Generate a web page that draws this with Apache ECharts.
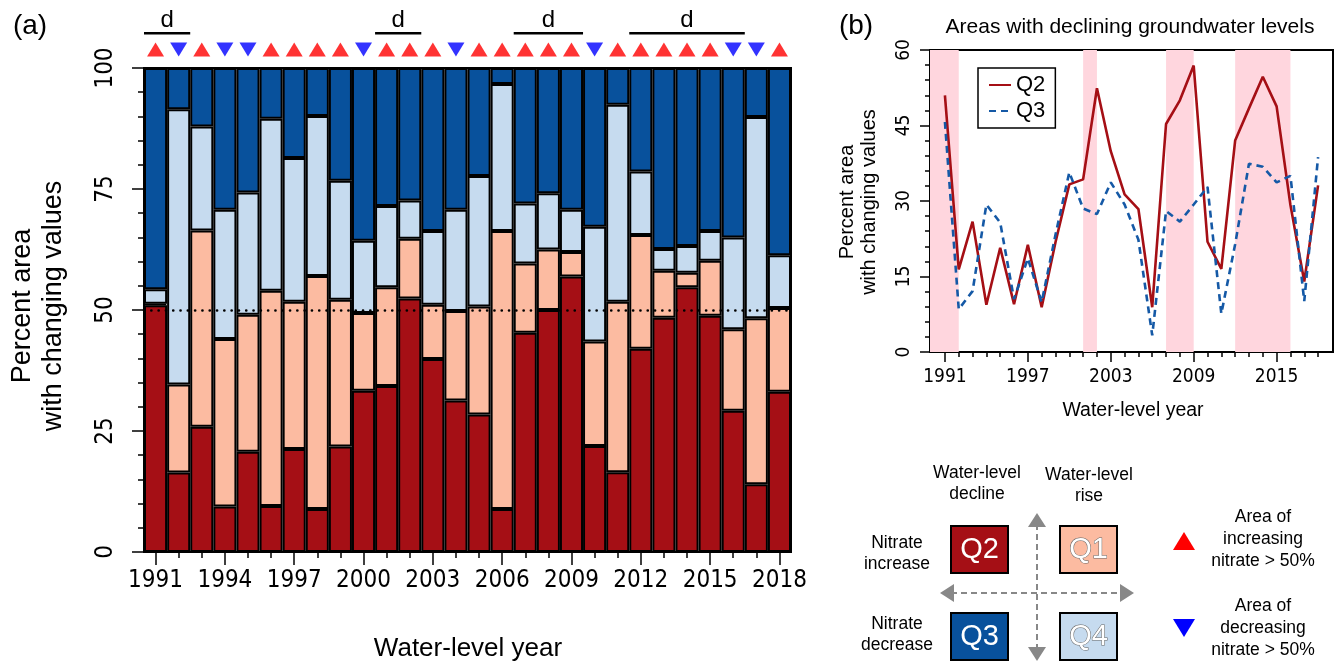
<!DOCTYPE html>
<html><head><meta charset="utf-8">
<script src="https://cdn.jsdelivr.net/npm/echarts@6/dist/echarts.min.js"></script>
<style>html,body{margin:0;padding:0;background:#fff}#c{width:1340px;height:665px}</style>
</head><body><div id="c"></div>
<script>
// ---------------- data ----------------
const years = ['1991','1992','1993','1994','1995','1996','1997','1998','1999','2000',
  '2001','2002','2003','2004','2005','2006','2007','2008','2009','2010',
  '2011','2012','2013','2014','2015','2016','2017','2018'];
// percent area in each quadrant (segment sizes)
const q2 = [51.0,16.4,25.9, 9.4,20.7, 9.5,21.3, 8.9,21.8,33.3,34.3,52.4,39.9,31.3,28.4, 8.9,45.3,50.0,56.9,21.9,16.5,42.0,48.4,54.7,48.8,29.2,14.0,33.1];
const q1 = [ 0.3,18.2,40.5,34.6,28.3,44.5,30.4,48.1,30.3,16.1,20.4,12.3,11.2,18.5,22.3,57.4,14.3,12.5, 5.1,21.6,35.2,23.5, 9.7, 3.0,11.4,16.8,34.3,17.3];
const q4 = [ 3.0,56.9,21.5,26.7,25.3,35.5,29.7,33.1,24.6,14.9,16.8, 7.9,15.2,20.9,27.0,30.4,12.4,11.6, 8.7,23.7,40.7,13.1, 4.5, 5.5, 6.1,19.0,41.6,10.9];
const q3 = [45.7, 8.5,12.1,29.3,25.7,10.5,18.6, 9.9,23.3,35.7,28.5,27.4,33.7,29.3,22.3, 3.3,28.0,25.9,29.3,32.8, 7.6,21.4,37.4,36.8,33.7,35.0,10.1,38.7];
// area of increasing (up) / decreasing (down) nitrate > 50%
const trend = ['up','down','up','down','down','up','up','up','up','down',
  'up','up','up','down','up','up','up','up','up','down',
  'up','up','up','up','up','down','down','up'];
// periods of declining groundwater levels ("d")
const dPeriods = [[1991,1992],[2001,2002],[2007,2009],[2012,2016]];
const leftXLabelYears = ['1991','1994','1997','2000','2003','2006','2009','2012','2015','2018'];
const rightXLabelYears = [1991,1997,2003,2009,2015];
const leftYTicks = [0,25,50,75,100];
const rightYTicks = [0,15,30,45,60];

// ---------------- styles ----------------
const NARROW = "'Liberation Sans Narrow','Arial Narrow','DejaVu Sans Condensed','Liberation Sans',sans-serif";
const SANS = "'Liberation Sans',Arial,Helvetica,sans-serif";
const C_Q2 = '#A50F15', C_Q1 = '#FCBBA1', C_Q4 = '#C6DBEF', C_Q3 = '#08519C';
const yearNums = years.map(Number);
const xMinR = 1991 - 0.04 * 27, xMaxR = 2018 + 0.04 * 27;

const chart = echarts.init(document.getElementById('c'), null, {renderer: 'canvas'});

function barSeries(name, data, color, extra) {
  return Object.assign({
    name: name, type: 'bar', stack: 'all', xAxisIndex: 0, yAxisIndex: 0,
    data: data, barCategoryGap: '0%', barWidth: '100%',
    itemStyle: {color: color, borderColor: '#000', borderWidth: 2},
    emphasis: {disabled: true}, silent: true
  }, extra || {});
}

const option = {
  animation: false,
  backgroundColor: '#fff',
  textStyle: {fontFamily: SANS},
  grid: [
    {left: 144, top: 68, width: 647, height: 484, show: true, borderColor: '#000', borderWidth: 2, backgroundColor: 'transparent'},
    {left: 144, top: 8, width: 647, height: 52},
    {left: 930, top: 50, width: 403, height: 302, show: true, borderColor: '#000', borderWidth: 2, backgroundColor: 'transparent'}
  ],
  legend: {
    data: ['Q2', 'Q3'], orient: 'vertical', left: 978, top: 68,
    backgroundColor: '#fff', borderColor: '#000', borderWidth: 1.5,
    padding: [6, 10, 6, 10], itemGap: 4, itemWidth: 22, itemHeight: 14,
    itemStyle: {opacity: 0},
    textStyle: {fontSize: 22, fontFamily: SANS, color: '#000'}
  },
  xAxis: [
    {type: 'category', gridIndex: 0, data: years, position: 'bottom',
     axisLine: {show: true, lineStyle: {color: '#000', width: 2}},
     axisTick: {show: true, alignWithLabel: true, interval: 0, length: 6, lineStyle: {color: '#000', width: 1.5}},
     axisLabel: {show: false}, splitLine: {show: false}},
    {type: 'category', gridIndex: 0, data: years, position: 'bottom',
     axisLine: {show: false},
     axisTick: {show: true, alignWithLabel: true, length: 13, lineStyle: {color: '#000', width: 1.5},
                interval: function (i, v) { return leftXLabelYears.indexOf(v) >= 0; }},
     axisLabel: {show: true, margin: 17, fontFamily: NARROW, fontSize: 24, color: '#000',
                 interval: function (i, v) { return leftXLabelYears.indexOf(v) >= 0; }},
     splitLine: {show: false}},
    {type: 'category', gridIndex: 1, data: years, show: false},
    {type: 'value', gridIndex: 2, min: xMinR, max: xMaxR, position: 'bottom',
     axisLine: {show: true, lineStyle: {color: '#000', width: 2}},
     axisTick: {show: true, customValues: yearNums, length: 5, lineStyle: {color: '#000', width: 1.5}},
     axisLabel: {show: false}, splitLine: {show: false}},
    {type: 'value', gridIndex: 2, min: xMinR, max: xMaxR, position: 'bottom',
     axisLine: {show: false},
     axisTick: {show: true, customValues: rightXLabelYears, length: 10, lineStyle: {color: '#000', width: 1.5}},
     axisLabel: {show: true, customValues: rightXLabelYears, margin: 16, fontFamily: NARROW, fontSize: 19, color: '#000',
                 formatter: function (v) { return String(v); }},
     splitLine: {show: false}}
  ],
  yAxis: [
    {type: 'value', gridIndex: 0, min: 0, max: 100, interval: 25,
     axisLine: {show: true, lineStyle: {color: '#000', width: 2}},
     axisTick: {show: true, length: 12, lineStyle: {color: '#000', width: 1.5}},
     minorTick: {show: true, splitNumber: 5, length: 6, lineStyle: {color: '#000', width: 1.5}},
     axisLabel: {rotate: 90, margin: 26, fontFamily: NARROW, fontSize: 24, color: '#000'},
     splitLine: {show: false}, minorSplitLine: {show: false}},
    {type: 'value', gridIndex: 1, min: 0, max: 5, show: false},
    {type: 'value', gridIndex: 2, min: 0, max: 60, interval: 15,
     axisLine: {show: true, lineStyle: {color: '#000', width: 2}},
     axisTick: {show: true, length: 10, lineStyle: {color: '#000', width: 1.5}},
     minorTick: {show: true, splitNumber: 5, length: 5, lineStyle: {color: '#000', width: 1.5}},
     axisLabel: {rotate: 90, margin: 16, fontFamily: NARROW, fontSize: 19, color: '#000'},
     splitLine: {show: false}, minorSplitLine: {show: false}}
  ],
  series: [
    barSeries('Q2 bars', q2, C_Q2),
    barSeries('Q1 bars', q1, C_Q1),
    barSeries('Q4 bars', q4, C_Q4),
    barSeries('Q3 bars', q3, C_Q3, {
      markLine: {silent: true, symbol: 'none', label: {show: false},
        lineStyle: {color: '#000', width: 2.6, type: [0.1, 7.2], cap: 'round'},
        data: [{yAxis: 50}]}
    }),
    {name: 'up', type: 'scatter', xAxisIndex: 2, yAxisIndex: 1, silent: true,
     symbol: 'triangle', symbolSize: [17, 14], itemStyle: {color: '#FF0000'},
     data: years.map(function (y, i) { return trend[i] === 'up' ? [y, 1] : null; }).filter(Boolean)},
    {name: 'down', type: 'scatter', xAxisIndex: 2, yAxisIndex: 1, silent: true,
     symbol: 'triangle', symbolRotate: 180, symbolSize: [17, 14], itemStyle: {color: '#0000FF'},
     data: years.map(function (y, i) { return trend[i] === 'down' ? [y, 1] : null; }).filter(Boolean)},
    {name: 'd', type: 'custom', xAxisIndex: 2, yAxisIndex: 1, silent: true, clip: false,
     encode: {x: [0, 1]},
     data: dPeriods.map(function (p) { return [years.indexOf(String(p[0])), years.indexOf(String(p[1]))]; }),
     renderItem: function (params, api) {
       var s = api.value(0), e = api.value(1);
       var bw = api.size([1, 0])[0];
       var a = api.coord([s, 2.57]), b = api.coord([e, 2.57]), t = api.coord([s, 3.85]);
       var x0 = a[0] - bw / 2, x1 = b[0] + bw / 2;
       return {type: 'group', children: [
         {type: 'line', shape: {x1: x0, y1: a[1], x2: x1, y2: a[1]}, style: {stroke: '#000', lineWidth: 2.5}},
         {type: 'text', style: {text: 'd', x: (x0 + x1) / 2, y: t[1], align: 'center', verticalAlign: 'middle',
           fontSize: 24, fontFamily: SANS, fill: '#000'}}
       ]};
     }},
    {name: 'Q2', type: 'line', xAxisIndex: 3, yAxisIndex: 2, silent: true, symbol: 'none',
     data: years.map(function (y, i) { return [Number(y), q2[i]]; }),
     lineStyle: {color: C_Q2, width: 2.6}, itemStyle: {color: C_Q2},
     markArea: {silent: true, itemStyle: {color: '#FFD6DE'},
       data: dPeriods.map(function (p) {
         return [{xAxis: p[0] === Number(years[0]) ? xMinR : p[0]}, {xAxis: p[1]}];
       })}},
    {name: 'Q3', type: 'line', xAxisIndex: 3, yAxisIndex: 2, silent: true, symbol: 'none',
     data: years.map(function (y, i) { return [Number(y), q3[i]]; }),
     lineStyle: {color: '#1559A6', width: 2.6, type: [7, 5]}, itemStyle: {color: '#1559A6'}}
  ],
  graphic: [
    {type: 'text', x: 30, y: 26, style: {text: '(a)', fontSize: 28, fontFamily: SANS, fill: '#000', align: 'center', verticalAlign: 'middle'}},
    {type: 'text', x: 856, y: 26, style: {text: '(b)', fontSize: 28, fontFamily: SANS, fill: '#000', align: 'center', verticalAlign: 'middle'}},
    {type: 'text', x: 22.5, y: 306, rotation: Math.PI / 2, style: {text: 'Percent area', fontSize: 27, fontFamily: SANS, fill: '#000', align: 'center', verticalAlign: 'middle'}},
    {type: 'text', x: 54, y: 306, rotation: Math.PI / 2, style: {text: 'with changing values', fontSize: 27, fontFamily: SANS, fill: '#000', align: 'center', verticalAlign: 'middle'}},
    {type: 'text', x: 468, y: 649, style: {text: 'Water-level year', fontSize: 26, fontFamily: SANS, fill: '#000', align: 'center', verticalAlign: 'middle'}},
    {type: 'text', x: 1130, y: 27, style: {text: 'Areas with declining groundwater levels', fontSize: 21, fontFamily: SANS, fill: '#000', align: 'center', verticalAlign: 'middle'}},
    {type: 'text', x: 847, y: 202, rotation: Math.PI / 2, style: {text: 'Percent area', fontSize: 20, fontFamily: SANS, fill: '#000', align: 'center', verticalAlign: 'middle'}},
    {type: 'text', x: 869.5, y: 202, rotation: Math.PI / 2, style: {text: 'with changing values', fontSize: 20, fontFamily: SANS, fill: '#000', align: 'center', verticalAlign: 'middle'}},
    {type: 'text', x: 1133, y: 411, style: {text: 'Water-level year', fontSize: 19.5, fontFamily: SANS, fill: '#000', align: 'center', verticalAlign: 'middle'}},
    // quadrant diagram
    {type: 'text', x: 977, y: 484, style: {text: 'Water-level\ndecline', fontSize: 17.5, lineHeight: 21, fontFamily: SANS, fill: '#000', align: 'center', verticalAlign: 'middle'}},
    {type: 'text', x: 1089, y: 486, style: {text: 'Water-level\nrise', fontSize: 17.5, lineHeight: 21, fontFamily: SANS, fill: '#000', align: 'center', verticalAlign: 'middle'}},
    {type: 'text', x: 897, y: 554, style: {text: 'Nitrate\nincrease', fontSize: 17.5, lineHeight: 21, fontFamily: SANS, fill: '#000', align: 'center', verticalAlign: 'middle'}},
    {type: 'text', x: 897, y: 635, style: {text: 'Nitrate\ndecrease', fontSize: 17.5, lineHeight: 21, fontFamily: SANS, fill: '#000', align: 'center', verticalAlign: 'middle'}},
    {type: 'line', shape: {x1: 1037, y1: 524, x2: 1037, y2: 650}, style: {stroke: '#888', lineWidth: 2, lineDash: [6, 4]}},
    {type: 'line', shape: {x1: 951, y1: 593, x2: 1122, y2: 593}, style: {stroke: '#888', lineWidth: 2, lineDash: [6, 4]}},
    {type: 'polygon', shape: {points: [[1037, 513], [1028, 527], [1046, 527]]}, style: {fill: '#888'}},
    {type: 'polygon', shape: {points: [[1037, 661], [1028, 647], [1046, 647]]}, style: {fill: '#888'}},
    {type: 'polygon', shape: {points: [[940, 593], [954, 584], [954, 602]]}, style: {fill: '#888'}},
    {type: 'polygon', shape: {points: [[1134, 593], [1120, 584], [1120, 602]]}, style: {fill: '#888'}},
    {type: 'rect', shape: {x: 951, y: 526, width: 57, height: 47}, style: {fill: C_Q2, stroke: '#000', lineWidth: 2}},
    {type: 'rect', shape: {x: 1060, y: 526, width: 57, height: 47}, style: {fill: C_Q1, stroke: '#000', lineWidth: 2}},
    {type: 'rect', shape: {x: 951, y: 613, width: 57, height: 47}, style: {fill: C_Q3, stroke: '#000', lineWidth: 2}},
    {type: 'rect', shape: {x: 1060, y: 613, width: 57, height: 47}, style: {fill: C_Q4, stroke: '#000', lineWidth: 2}},
    {type: 'text', x: 979.5, y: 550, style: {text: 'Q2', fontSize: 29, fontFamily: SANS, fill: '#fff', align: 'center', verticalAlign: 'middle'}},
    {type: 'text', x: 1088.5, y: 550, style: {text: 'Q1', fontSize: 29, fontFamily: SANS, fill: '#fff', stroke: '#666', lineWidth: 1, align: 'center', verticalAlign: 'middle'}},
    {type: 'text', x: 979.5, y: 637, style: {text: 'Q3', fontSize: 29, fontFamily: SANS, fill: '#fff', align: 'center', verticalAlign: 'middle'}},
    {type: 'text', x: 1088.5, y: 637, style: {text: 'Q4', fontSize: 29, fontFamily: SANS, fill: '#fff', stroke: '#666', lineWidth: 1, align: 'center', verticalAlign: 'middle'}},
    {type: 'polygon', shape: {points: [[1184, 532], [1173, 550], [1195, 550]]}, style: {fill: '#FF0000'}},
    {type: 'polygon', shape: {points: [[1173, 619], [1195, 619], [1184, 637]]}, style: {fill: '#0000FF'}},
    {type: 'text', x: 1263, y: 539, style: {text: 'Area of\nincreasing\nnitrate > 50%', fontSize: 17.5, lineHeight: 22, fontFamily: SANS, fill: '#000', align: 'center', verticalAlign: 'middle'}},
    {type: 'text', x: 1263, y: 628, style: {text: 'Area of\ndecreasing\nnitrate > 50%', fontSize: 17.5, lineHeight: 22, fontFamily: SANS, fill: '#000', align: 'center', verticalAlign: 'middle'}}
  ]
};
chart.setOption(option);
</script></body></html>
